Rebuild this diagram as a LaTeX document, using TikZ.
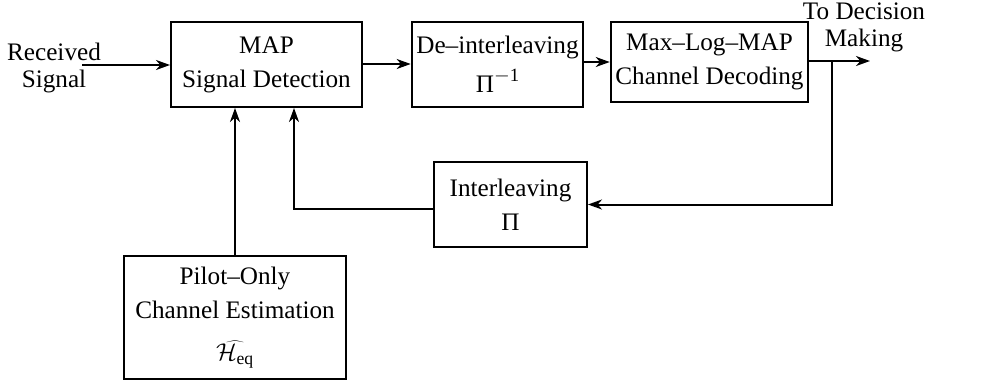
\documentclass[tikz,border=0pt]{standalone}
\usepackage{fontspec}
\setmainfont{Liberation Serif}
\usetikzlibrary{arrows.meta, positioning, calc}
\tikzset{
  every picture/.style={line width=1.7pt},
  blk/.style={draw, align=center, inner sep=4pt, font=\fontsize{21.5}{29}\selectfont},
  arrow/.style={-{Stealth[length=4.2mm, width=3mm, inset=1.3mm]}},
  lbl/.style={align=center, inner sep=0pt, font=\fontsize{21.5}{23}\selectfont},
}
\newcommand{\invsup}{\raisebox{0.42em}{\fontsize{16}{16}\selectfont$-$1}}
\begin{document}
\begin{tikzpicture}[x=0.03cm, y=-0.03cm]
  \useasboundingbox (0,0) rectangle (987,385);
  \node[blk, minimum width=5.73cm, minimum height=2.55cm] (map) at (266.5,64.5) {MAP\\Signal Detection};
  \node[blk, minimum width=4.77cm, minimum height=2.55cm] (deint) at (497.5,64.5) {De--interleaving\\[4pt]Π\invsup};
  \node[blk, minimum width=5.67cm, minimum height=2.4cm] (dec) at (709.5,62) {Max--Log--MAP\\Channel Decoding};
  \node[blk, minimum width=4.59cm, minimum height=2.55cm] (intl) at (510.5,204.5) {Interleaving\\Π};
  \node[blk, minimum width=6.66cm, minimum height=3.69cm] (pilot) at (235,317.5) {Pilot--Only\\Channel Estimation\\[7pt]$\widehat{\mathcal{H}_{\mathrm{eq}}}$};
  \node[lbl] (rx) at (54,68) {Received\\Signal};
  \node[lbl] (dm) at (864,27) {To Decision\\Making};
  \coordinate (in) at (82,65);
  \coordinate (out) at (870,61);
  \coordinate (br) at (832,61);
  \draw[arrow] (in) -- (in -| map.west);
  \draw[arrow] (map.east |- 0,64) -- (deint.west |- 0,64);
  \draw[arrow] (deint.east |- dec.west) -- (dec.west);
  \draw[arrow] (dec.east |- out) -- (out);
  \draw[arrow] (br) |- (intl.east);
  \draw[arrow] (intl.west |- 0,209) -| ([xshift=0.825cm]map.south);
  \draw[arrow] (pilot.north) -- (pilot.north |- map.south);
\end{tikzpicture}
\end{document}
